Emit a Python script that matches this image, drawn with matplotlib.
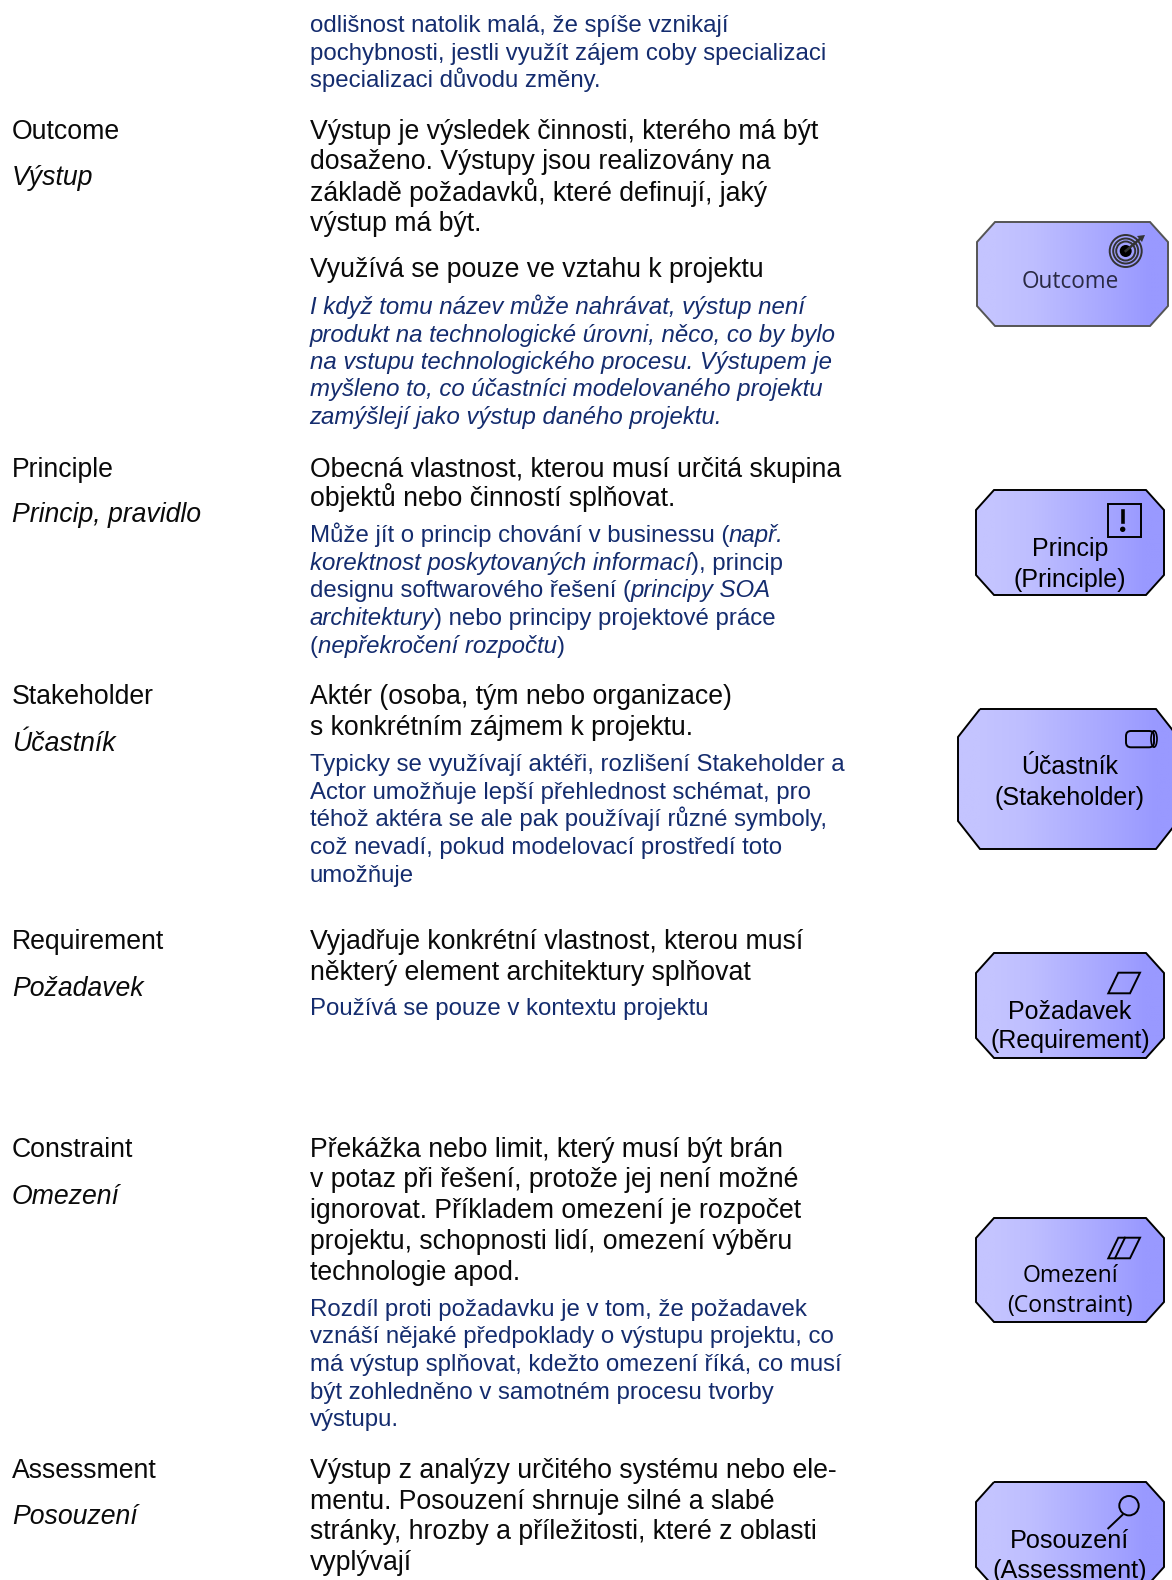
import numpy as np
import matplotlib
matplotlib.use('Agg')
import matplotlib.pyplot as plt
from matplotlib.patches import Polygon, Circle, Rectangle, FancyBboxPatch, Ellipse

plt.rcParams['font.family'] = ['Liberation Sans', 'DejaVu Sans']

BLUE = '#142c6e'
BLACK = '#0a0a0a'
MAIN = 19.15
NOTE = 17.3

# left column
labels = ['Outcome', 'Principle', 'Stakeholder', 'Requirement', 'Constraint', 'Assessment']
labels_y = [139, 477, 704, 949, 1157, 1478]
labels_cz = ['Výstup', 'Princip, pravidlo', 'Účastník', 'Požadavek', 'Omezení', 'Posouzení']
labels_cz_y = [185, 522, 751, 996, 1204, 1524]

# black description lines
main_lines = [
    'Výstup je výsledek činnosti, kterého má být',
    'dosaženo. Výstupy jsou realizovány na',
    'základě požadavků, které definují, jaký',
    'výstup má být.',
    'Využívá se pouze ve vztahu k projektu',
    'Obecná vlastnost, kterou musí určitá skupina',
    'objektů nebo činností splňovat.',
    'Aktér (osoba, tým nebo organizace)',
    's konkrétním zájmem k projektu.',
    'Vyjadřuje konkrétní vlastnost, kterou musí',
    'některý element architektury splňovat',
    'Překážka nebo limit, který musí být brán',
    'v potaz při řešení, protože jej není možné',
    'ignorovat. Příkladem omezení je rozpočet',
    'projektu, schopnosti lidí, omezení výběru',
    'technologie apod.',
    'Výstup z analýzy určitého systému nebo ele-',
    'mentu. Posouzení shrnuje silné a slabé',
    'stránky, hrozby a příležitosti, které z oblasti',
    'vyplývají',
]
main_y = [139, 169, 201, 231, 277, 477, 506, 704, 735, 949, 980,
          1157, 1187, 1218, 1249, 1280, 1478, 1509, 1539, 1570]

# blue notes, each line is a list of (text, italic)
note_lines = [
    [('odlišnost natolik malá, že spíše vznikají', False)],
    [('pochybnosti, jestli využít zájem coby specializaci', False)],
    [('specializaci důvodu změny.', False)],
    [('I když tomu název může nahrávat, výstup není', True)],
    [('produkt na technologické úrovni, něco, co by bylo', True)],
    [('na vstupu technologického procesu. Výstupem je', True)],
    [('myšleno to, co účastníci modelovaného projektu', True)],
    [('zamýšlejí jako výstup daného projektu.', True)],
    [('Může jít o princip chování v businessu (', False), ('např.', True)],
    [('korektnost poskytovaných informací', True), ('), princip', False)],
    [('designu softwarového řešení (', False), ('principy SOA', True)],
    [('architektury', True), (') nebo principy projektové práce', False)],
    [('(', False), ('nepřekročení rozpočtu', True), (')', False)],
    [('Typicky se využívají aktéři, rozlišení Stakeholder a', False)],
    [('Actor umožňuje lepší přehlednost schémat, pro', False)],
    [('téhož aktéra se ale pak používají různé symboly,', False)],
    [('což nevadí, pokud modelovací prostředí toto', False)],
    [('umožňuje', False)],
    [('Používá se pouze v kontextu projektu', False)],
    [('Rozdíl proti požadavku je v tom, že požadavek', False)],
    [('vznáší nějaké předpoklady o výstupu projektu, co', False)],
    [('má výstup splňovat, kdežto omezení říká, co musí', False)],
    [('být zohledněno v samotném procesu tvorby', False)],
    [('výstupu.', False)],
]
note_y = [32, 60, 87, 314, 342, 369, 396, 424, 542, 570, 597, 625, 653,
          771, 799, 826, 854, 882, 1015, 1316, 1343, 1371, 1399, 1426]

# boxes: left, top, right, bottom, corner x, corner y
boxes = [
    (977, 222, 1168, 326, 18, 20),
    (976, 490, 1164, 595, 18, 20),
    (958, 709, 1178, 849, 22, 28),
    (976, 953, 1164, 1058, 18, 20),
    (976, 1218, 1164, 1322, 18, 20),
    (976, 1482, 1164, 1587, 18, 20),
]
box_edges = ['#555555', 'black', 'black', 'black', 'black', 'black']
box_text = [
    [('Outcome', 288)],
    [('Princip', 556), ('(Principle)', 586.5)],
    [('Účastník', 774), ('(Stakeholder)', 805)],
    [('Požadavek', 1019), ('(Requirement)', 1048)],
    [('Omezení', 1281.5), ('(Constraint)', 1312)],
    [('Posouzení', 1548), ('(Assessment)', 1578)],
]
box_fonts = ['Open Sans', 'Liberation Sans', 'Liberation Sans', 'Liberation Sans', 'Open Sans', 'Liberation Sans']
box_sizes = [16.3, 18, 18, 18, 16.6, 18.2]
box_colors = ['#2a2a44', 'black', 'black', 'black', 'black', 'black']

fig = plt.figure(figsize=(11.72, 15.8), dpi=100, facecolor='white')
ax = fig.add_axes([0, 0, 1, 1])
ax.set_xlim(0, 1172)
ax.set_ylim(1580, 0)
ax.axis('off')
renderer = fig.canvas.get_renderer()


def draw_runs(x, y, runs):
    for s, it in runs:
        t = ax.text(x, y, s, fontsize=NOTE, color=BLUE, va='baseline',
                    style='italic' if it else 'normal')
        x += t.get_window_extent(renderer).width


for s, y in zip(labels, labels_y):
    ax.text(12, y, s, fontsize=MAIN, color=BLACK, va='baseline')
for s, y in zip(labels_cz, labels_cz_y):
    ax.text(12, y, s, fontsize=MAIN, color=BLACK, style='italic', va='baseline')
for s, y in zip(main_lines, main_y):
    ax.text(309.5, y, s, fontsize=MAIN, color=BLACK, va='baseline')
for runs, y in zip(note_lines, note_y):
    draw_runs(309.5, y, runs)

# elements with the left to right gradient
grad = np.array([[[0xc4, 0xc4, 0xff], [0xbe, 0xbe, 0xff], [0xb2, 0xb2, 0xff], [0xa6, 0xa6, 0xff], [0x99, 0x99, 0xff]]]) / 255
for (l, t, r, b, cx, cy), ec, rows, fnt, sz, col in zip(boxes, box_edges, box_text, box_fonts, box_sizes, box_colors):
    pts = [(l + cx, t), (r - cx, t), (r, t + cy), (r, b - cy), (r - cx, b), (l + cx, b), (l, b - cy), (l, t + cy)]
    im = ax.imshow(grad, extent=(l, r, b, t), aspect='auto', interpolation='bilinear', zorder=1)
    poly = Polygon(pts, closed=True, fc='none', ec=ec, lw=1.4, zorder=2)
    ax.add_patch(poly)
    im.set_clip_path(poly)
    for s, y in rows:
        ax.text(1070, y, s, fontsize=sz, family=fnt, color=col, ha='center', va='baseline', zorder=4)
ax.set_xlim(0, 1172)
ax.set_ylim(1580, 0)

# icons
for rad in [16, 12.5, 9.5]:
    ax.add_patch(Circle((1125.7, 251), rad, fc='none', ec='#333333', lw=1.4, zorder=3))
ax.add_patch(Circle((1125.7, 251), 6, fc='black', ec='none', zorder=3))
ax.plot([1125.7, 1141], [251, 238], color='#333333', lw=1.8, zorder=3)
ax.add_patch(Polygon([(1145, 235), (1137, 236), (1142, 242)], fc='#333333', ec='none', zorder=3))

ax.add_patch(Rectangle((1107.7, 504), 33, 32.7, fc='none', ec='black', lw=1.4, zorder=3))
ax.plot([1122.7, 1122.7], [511, 521.5], color='black', lw=2.6, zorder=3)
ax.add_patch(Circle((1122.7, 529.3), 2.7, fc='black', ec='none', zorder=3))

ax.add_patch(FancyBboxPatch((1126, 731), 28, 16.3, boxstyle='round,pad=0,rounding_size=5',
                            fc='none', ec='black', lw=1.4, zorder=3))
ax.add_patch(Ellipse((1154, 739), 6, 16.3, fc='none', ec='black', lw=1.2, zorder=3))

ax.add_patch(Polygon([(1108.3, 993.3), (1130, 993.3), (1140, 972.7), (1118.3, 972.7)],
                     fc='none', ec='black', lw=1.4, zorder=3))

ax.add_patch(Polygon([(1108.3, 1258.3), (1130, 1258.3), (1140, 1237.7), (1118.3, 1237.7)],
                     fc='none', ec='black', lw=1.4, zorder=3))
ax.plot([1115, 1125], [1258.3, 1237.7], color='black', lw=1.4, zorder=3)

ax.add_patch(Circle((1129, 1505.7), 9.7, fc='none', ec='black', lw=1.4, zorder=3))
ax.plot([1108.3, 1122.3], [1528.3, 1515], color='black', lw=1.4, zorder=3)

fig.savefig('out.png', dpi=100, facecolor='white')
